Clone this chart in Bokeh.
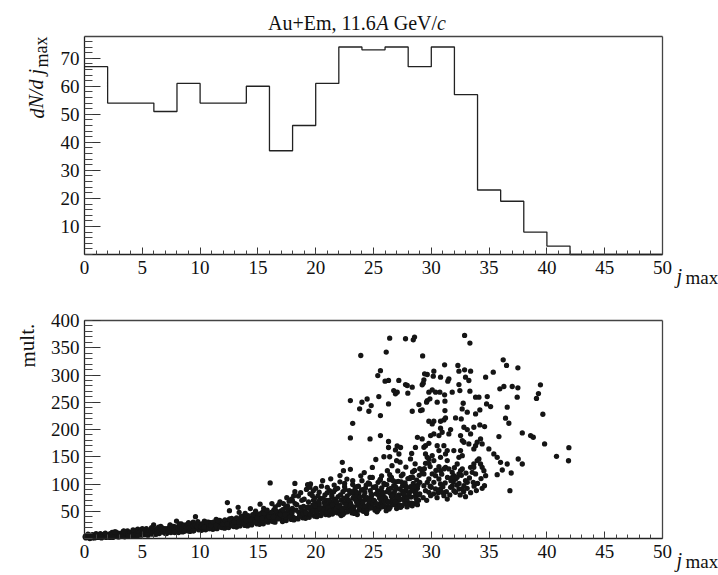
from bokeh.plotting import figure
from bokeh.layouts import column
from bokeh.models import Label, FixedTicker, Range1d, LinearAxis
from bokeh.embed import file_html
from bokeh.resources import INLINE

# ---------------- data ----------------
# top panel: dN/d jmax histogram (bin width 2)
bin_edges = list(range(0, 52, 2))
bin_counts = [67, 54, 54, 51, 61, 54, 54, 60, 37, 46, 61, 74, 73, 74, 67, 74,
              57, 23, 19, 8, 3, 0, 0, 0, 0]

x_ticks = [0, 5, 10, 15, 20, 25, 30, 35, 40, 45, 50]
top_y_ticks = [10, 20, 30, 40, 50, 60, 70]
bot_y_ticks = [50, 100, 150, 200, 250, 300, 350, 400]

# bottom panel: (jmax, multiplicity) per event
band_0_5 = [(0.05,3),(0.12,1),(0.2,5),(0.3,2),(0.38,6),(0.46,0),(0.55,4),(0.63,2),(0.71,7),(0.8,3),(0.88,1),(0.95,5),
            (1.04,4),(1.13,2),(1.21,7),(1.29,3),(1.37,9),(1.47,1),(1.54,5),(1.62,3),(1.72,8),(1.79,6),(1.87,2),(1.96,4),
            (2.05,5),(2.11,3),(2.22,9),(2.28,4),(2.39,11),(2.45,2),(2.56,7),(2.64,6),(2.7,12),(2.81,8),(2.89,3),(2.94,6),
            (3.03,6),(3.14,4),(3.19,10),(3.31,5),(3.36,13),(3.48,3),(3.53,8),(3.66,7),(3.72,14),(3.79,9),(3.9,5),(3.97,11),
            (4.06,7),(4.1,5),(4.23,12),(4.27,6),(4.4,15),(4.44,4),(4.57,10),(4.61,17),(4.74,13),(4.78,9),(4.91,6),(4.95,11)]
band_5_10 = [(5.02,9),(5.15,7),(5.18,14),(5.33,8),(5.35,18),(5.5,6),(5.52,12),(5.68,10),(5.7,16),(5.83,13),(5.86,8),(5.98,25),
             (6.04,11),(6.12,8),(6.24,16),(6.29,10),(6.41,21),(6.47,9),(6.58,14),(6.64,12),(6.76,19),(6.81,15),(6.93,10),(6.97,18),
             (7.07,13),(7.1,9),(7.25,19),(7.3,12),(7.42,24),(7.48,11),(7.59,16),(7.66,14),(7.73,22),(7.84,17),(7.88,12),(7.96,32),
             (8.03,15),(8.14,11),(8.19,21),(8.32,13),(8.38,27),(8.49,12),(8.56,18),(8.65,16),(8.74,25),(8.78,19),(8.9,14),(8.97,23),
             (9.05,17),(9.12,13),(9.22,24),(9.29,15),(9.4,30),(9.45,14),(9.57,21),(9.6,40),(9.71,27),(9.82,19),(9.87,16),(9.98,26)]
band_10_15 = [(10.04,19),(10.13,15),(10.2,26),(10.31,17),(10.37,32),(10.48,16),(10.55,23),(10.63,21),(10.72,30),(10.8,25),(10.91,18),(10.96,28),
              (11.03,21),(11.11,17),(11.23,29),(11.28,19),(11.39,35),(11.46,18),(11.55,26),(11.66,23),(11.7,33),(11.83,27),(11.89,20),(11.95,31),
              (12.06,23),(12.12,19),(12.2,32),(12.3,21),(12.36,66),(12.47,20),(12.54,51),(12.62,25),(12.73,37),(12.79,29),(12.9,22),(12.97,34),
              (13.02,26),(13.15,21),(13.21,35),(13.29,57),(13.38,48),(13.44,23),(13.58,32),(13.63,28),(13.71,41),(13.82,31),(13.87,24),(13.96,38),
              (14.05,28),(14.1,23),(14.23,38),(14.31,26),(14.35,55),(14.46,25),(14.55,34),(14.64,31),(14.72,45),(14.8,36),(14.9,27),(14.97,42)]
band_15_20 = [(15.04,31),(15.14,26),(15.19,63),(15.32,29),(15.39,48),(15.47,27),(15.53,37),(15.65,34),(15.7,44),(15.81,39),(15.88,30),(15.95,46),
              (16.03,33),(16.06,102),(16.21,64),(16.28,31),(16.37,52),(16.48,30),(16.57,40),(16.61,37),(16.74,48),(16.79,43),(16.91,67),(16.96,50),
              (17.05,36),(17.13,31),(17.2,46),(17.3,34),(17.4,57),(17.45,33),(17.56,60),(17.62,40),(17.7,52),(17.84,47),(17.89,35),(17.98,55),
              (18.04,39),(18.11,34),(18.22,64),(18.27,37),(18.36,62),(18.47,36),(18.54,48),(18.66,44),(18.71,57),(18.8,51),(18.88,38),(18.95,59),
              (19.03,42),(19.12,37),(19.24,56),(19.29,40),(19.38,67),(19.44,39),(19.57,52),(19.62,48),(19.75,61),(19.81,55),(19.9,41),(19.97,64)]
band_20_25 = [(20.05,45),(20.1,40),(20.21,60),(20.3,43),(20.4,73),(20.46,42),(20.56,56),(20.64,51),(20.71,66),(20.82,59),(20.87,44),(20.96,70),
              (21.02,48),(21.14,43),(21.23,65),(21.28,46),(21.39,80),(21.45,45),(21.58,60),(21.61,55),(21.72,72),(21.8,63),(21.9,47),(21.95,77),(21.5,68),(21.34,52),
              (22.06,50),(22.12,45),(22.2,70),(22.33,48),(22.36,86),(22.47,47),(22.55,64),(22.65,58),(22.73,78),(22.78,67),(22.9,52),(22.97,83),(22.42,74),(22.62,56),
              (23.03,52),(23.15,47),(23.22,74),(23.29,50),(23.41,92),(23.46,49),(23.54,67),(23.63,61),(23.74,83),(23.81,71),(23.88,55),(23.95,89),(23.35,79),(23.7,96),
              (24.05,54),(24.11,50),(24.19,78),(24.31,53),(24.37,98),(24.45,52),(24.57,70),(24.6,64),(24.72,88),(24.8,75),(24.89,58),(24.98,94),(24.25,84),(24.66,100)]
band_25_29 = [(25.04,56),(25.13,52),(25.23,82),(25.28,55),(25.4,103),(25.48,54),(25.53,74),(25.65,67),(25.71,93),(25.83,79),(25.86,60),(25.96,99),(25.36,88),(25.58,63),
              (26.02,59),(26.14,55),(26.2,86),(26.32,58),(26.38,108),(26.44,57),(26.55,77),(26.62,70),(26.75,97),(26.79,83),(26.9,63),(26.95,104),(26.5,92),(26.27,66),
              (27.06,62),(27.1,58),(27.24,91),(27.3,61),(27.41,115),(27.47,60),(27.59,81),(27.64,74),(27.73,102),(27.82,88),(27.87,66),(27.98,110),(27.52,97),(27.18,70),
              (28.03,66),(28.15,62),(28.21,95),(28.29,65),(28.38,122),(28.47,64),(28.56,86),(28.62,78),(28.74,107),(28.8,92),(28.9,70),(28.96,116),(28.44,101),(28.68,74)]
band_fill = [(0.1,5),(0.25,3),(0.42,2),(0.6,6),(0.75,4),(0.92,2),(1.08,6),(1.25,3),(1.42,5),(1.58,7),(1.75,4),(1.92,6),
             (2.08,7),(2.25,5),(2.42,8),(2.58,4),(2.75,9),(2.92,10),(3.08,8),(3.25,6),(3.42,11),(3.58,9),(3.75,6),(3.92,8),
             (4.08,10),(4.25,8),(4.42,12),(4.58,7),(4.75,11),(4.92,14),(5.08,11),(5.25,13),(5.42,10),(5.58,15),(5.75,12),(5.92,17),
             (6.08,13),(6.25,17),(6.42,12),(6.58,18),(6.75,14),(6.92,16),(7.08,16),(7.25,14),(7.42,19),(7.58,20),(7.75,15),(7.92,21),
             (8.08,18),(8.25,22),(8.42,17),(8.58,23),(8.75,20),(8.92,25),(9.08,20),(9.25,19),(9.42,23),(9.58,25),(9.75,22),(9.92,24),
             (10.08,22),(10.25,24),(10.42,20),(10.58,27),(10.75,23),(10.92,29),(11.08,24),(11.25,26),(11.42,22),(11.58,30),(11.75,25),(11.92,28),
             (12.08,27),(12.25,29),(12.42,24),(12.58,33),(12.75,28),(12.92,31),(13.08,30),(13.25,33),(13.42,27),(13.58,37),(13.75,32),(13.92,35),
             (14.08,33),(14.25,36),(14.42,30),(14.58,40),(14.75,34),(14.92,38),(15.08,36),(15.25,40),(15.42,33),(15.58,43),(15.75,37),(15.92,41),
             (16.08,39),(16.25,43),(16.42,36),(16.58,46),(16.75,41),(16.92,45),(17.08,42),(17.25,47),(17.42,39),(17.58,50),(17.75,44),(17.92,49)]
band_edge = [(0.3,8),(0.7,1),(1.0,9),(1.4,3),(1.8,10),(2.2,2),(2.6,12),(3.0,3),(3.4,14),(3.8,4),(4.2,16),(4.6,5),(5.0,18),
             (5.4,7),(5.8,20),(6.2,8),(6.6,22),(7.0,10),(7.4,25),(7.8,11),(8.2,27),(8.6,13),(9.0,29),(9.4,14),(9.8,31),
             (10.15,27),(10.35,21),(10.55,30),(10.75,18),(10.95,24),(11.15,30),(11.35,24),(11.55,33),(11.75,21),(11.95,26),
             (12.15,34),(12.35,27),(12.55,36),(12.75,24),(12.95,30),(13.15,38),(13.35,30),(13.55,40),(13.75,27),(13.95,33),
             (14.15,42),(14.35,34),(14.55,44),(14.75,30),(14.95,37),(15.15,45),(15.35,37),(15.55,47),(15.75,33),(15.95,40),
             (16.15,48),(16.35,40),(16.55,51),(16.75,36),(16.95,44),(17.15,53),(17.35,44),(17.55,55),(17.75,39),(17.95,47),
             (18.5,78),(18.7,84),(19.0,72),(19.2,90),(19.5,82),(19.8,70),(20.0,92),(20.3,85),(20.5,96),(20.8,80),(21.0,94),
             (21.2,88),(21.6,98),(21.9,92),(22.1,104),(17.9,72),(18.1,78),(17.5,75),(16.5,58),(16.8,62),(15.5,55),(15.8,52),
             (14.8,50),(13.9,46),(17.2,64),(18.0,69)]
band_upper = [(18.3,52),(18.6,41),(18.9,46),(19.1,50),(19.4,45),(19.7,58),(20.0,53),(20.3,63),(20.6,48),(20.9,62),(21.2,58),(21.5,50),
              (21.8,67),(22.1,61),(22.4,55),(22.7,72),(23.0,66),(23.3,58),(23.6,77),(23.9,64),(24.2,70),(24.5,60),(24.8,82),(25.1,68),
              (25.4,62),(25.7,86),(26.0,75),(26.3,90),(26.6,65),(26.9,95),(27.2,80),(27.5,72),(27.8,96),(28.1,84),(28.4,112),(28.7,96),(29.0,82),
              (20.2,78),(21.0,84),(21.7,90),(22.5,95),(23.2,99),(24.0,106),(24.9,112),(25.6,109),(26.4,117),(27.1,124),(27.8,131),(28.6,137),(29.0,128),
              (18.8,70),(19.9,74),(21.4,76),(22.9,88),(23.5,85),(24.3,92),(25.2,95),(25.9,101),(26.7,106),(27.4,104),(28.2,112),
              (22.2,42),(23.6,44),(24.4,46),(25.3,49),(26.1,51),(27.0,55),(27.9,58),(28.8,62)]
band_extra = [(19.15,47),(19.35,58),(19.55,44),(19.75,50),(19.95,60),
              (20.15,50),(20.35,55),(20.55,47),(20.75,53),(20.95,49),(20.25,68),(20.65,74),
              (21.05,56),(21.25,50),(21.45,62),(21.65,48),(21.85,58),(21.15,70),(21.55,86),(21.75,54),
              (22.05,58),(22.25,52),(22.45,66),(22.65,62),(22.85,70),(22.15,80),(22.55,90),(22.95,60),(22.35,44),(22.75,49),
              (23.05,62),(23.25,56),(23.45,71),(23.65,65),(23.85,76),(23.15,86),(23.55,95),(23.95,60),(23.35,46),(23.75,52),
              (24.05,66),(24.25,60),(24.45,75),(24.65,69),(24.85,80),(24.15,90),(24.55,102),(24.95,64),(24.35,48),(24.75,56),
              (25.05,70),(25.25,64),(25.45,79),(25.65,73),(25.85,84),(25.15,94),(25.55,107),(25.95,68),(25.35,51),(25.75,58),
              (26.05,73),(26.25,68),(26.45,83),(26.65,78),(26.85,88),(26.15,99),(26.55,112),(26.95,72),(26.35,54),(26.75,62),
              (27.05,77),(27.25,72),(27.45,88),(27.65,82),(27.85,93),(27.15,105),(27.55,118),(27.95,76),(27.35,57),(27.75,66),
              (28.05,81),(28.25,76),(28.45,92),(28.65,86),(28.85,98),(28.15,110),(28.55,125),(28.95,80),(28.35,60),(28.75,69),
              (29.3,75),(29.6,70),(29.9,96),(30.2,82),(30.5,75),(30.8,100),(31.0,95),(31.3,86),(31.6,80),(31.9,104),
              (32.2,98),(32.5,80),(32.8,86),(33.1,92),(33.4,84),(33.7,96),(34.0,101),(34.3,110),(34.6,97),
              (29.4,128),(29.9,132),(30.4,125),(30.9,118),(31.4,112),(31.7,106),(32.0,130),(32.6,116),(33.0,120),(33.3,111),
              (30.0,94),(30.6,84),(31.2,102),(31.8,96),(32.4,101),(33.9,88),(34.4,92)]
mid_left = [(28.8,185.7),(28.63,167),(28.3,156),(28.2,146),(27.0,142.8),(27.3,140),(26.2,124.5),(26.6,133.6),(29.0,103),(28.5,94),(28.3,88),(27.9,73),(27.7,64),(27.3,58),(26.9,67),
            (22.1,115.5),(21.3,109.5),(20.6,106),(19.55,100),(18.2,101),(18.2,86),(17.7,68.4),(19.3,98.8),(19.5,94),(19.8,88),(19.7,79),(23.0,127),
            (23.2,211.4),(23.0,184.6),(24.7,182.7),(25.6,188.8),(26.3,178),(26.3,167),(27.05,170),(27.34,167),(26.9,162.5),(22.3,139.7),(22.4,124.5),(26.4,150),(27.2,155),
            (25.2,145),(25.9,150),(25.7,115),(24.7,112),(24.9,130.5),(23.9,115),(24.2,121),(23.2,106),(22.7,109),(22.5,101)]
mid_right = [(30.94,195),(30.66,188.8),(30.22,191.9),(29.94,188.8),(31.52,191.9),(32.53,188.8),(32.68,179.6),(32.82,176.6),(33.4,191.9),(35.85,187),(37.87,193.7),(38.59,188.8),(38.82,185.8),(39.8,173.5),
             (29.21,182.7),(29.36,167.4),(29.5,170.4),(29.79,174.7),(30.51,170.4),(30.66,161.3),(31.09,170.4),(31.38,161.3),(31.95,161.3),(32.53,161.3),(32.39,149),(32.24,136.7),(32.68,152),
             (33.25,173.5),(33.83,170.4),(33.68,164.3),(33.97,176.6),(34.26,182.7),(34.4,173.5),(34.98,164.3),(35.41,155.1),(35.7,149),(35.99,139.8),(36.14,125.7),(36.57,136.7),(35.7,117.1),
             (36.91,120.2),(37.52,145.9),(37.87,136.7),
             (29.5,155.1),(29.65,149),(29.79,145.9),(30.08,152.1),(30.22,142.9),(29.5,138),(29.79,138),(30.8,149),(31.23,155.1),(31.38,142.9),(31.23,130.6),(30.66,131.8),(30.8,124.5),
             (31.09,127.6),(31.52,127.6),(31.81,121.4),(31.95,115.3),(32.1,109.2),(32.39,118.4),(32.53,124.5),(32.68,127.6),(32.24,112.2),(31.81,112.2),(33.68,136.7),(33.97,142.9),
             (34.12,145.9),(34.26,136.7),(34.4,130.6),(34.55,124.5),(34.7,115.3),(33.4,130.6),(33.54,121.4),(33.83,118.4),(33.68,130.6),
             (29.21,121.4),(29.36,118.4),(29.79,109.2),(29.65,103.1),(30.08,118.4),(30.37,115.3),(30.66,109.2),(30.22,103.1),(29.36,96.9),(29.5,87.7),(29.79,84.7),(29.94,78.5),
             (30.37,90.8),(30.8,90.8),(30.94,84.7),(31.09,78.5),(31.38,72.4),(31.67,93.9),(31.95,87.7),(32.1,84.7),(32.39,90.8),(32.68,90.8),(32.82,96.9),(32.96,106.1),(33.11,103.1),
             (33.63,103.1),(32.96,76.7),(36.8,87.7),(40.83,150.7),(41.9,166.6),(41.87,142.7)]
high = [(27.77,366.5),(28.44,364.6),(28.55,369.5),(32.88,372.6),(33.34,358.5),(29.25,335),(31.15,318.7),(32.3,317.5),(32.39,307),(32.88,309.5),(33.4,307),
        (30.22,307),(29.65,300.9),(29.42,302.2),(30.17,297.9),(30.8,296),(31.52,293),(31.43,288.7),(29.36,291.1),(29.3,285),(29.21,281.9),(27.77,282.5),(27.92,280.7),
        (28.35,277.6),(27.97,266.6),(32.96,296),(33.25,289.9),(32.39,282.5),(32.47,271.5),(33.34,270.3),(31.81,268.5),(31.15,263.6),(29.79,268.5),(30.08,272.7),
        (30.37,268.5),(30.74,268.5),(29.88,256.2),(29.65,253.1),(29.59,250.1),(30.51,250.1),(31.18,251.9),(31.18,234.8),(28.93,245.8),(29.21,236),(29.07,234.8),
        (28.35,233.5),(32.76,248.2),(32.67,237.8),(33.11,231.7),(33.83,259.3),(34.12,259.3),(34.2,236),(33.83,228.6),(34.7,296),(35.36,305.2),(34.84,260.5),
        (34.78,247),(35.13,242.1),(35.93,274.6),(36.28,278.9),(36.22,327.9),(36.51,317.5),(37.0,278.9),(37.49,276.4),(37.43,259.3),(37.49,313.2),(36.57,240.9),
        (36.42,220.7),(36.71,211.5),(29.79,215.1),(30.08,210.2),(30.22,215.1),(30.8,215.1),(31.09,217.6),(31.23,221.3),(30.8,202.3),(31.67,199.8),(32.1,221.3),
        (32.59,219.4),(32.82,204.1),(33.11,199.8),(33.68,204.1),(34.2,208.4),(34.61,205.4),
        (39.44,282),(39.27,266),(39.1,257),(39.65,228),
        (26.4,367.6),(23.9,335.8),(26.1,342),(25.6,308),(25.37,299),(26.0,288.6),(26.3,290),(27.19,290),(26.75,271.5),(26.9,265.4),(27.05,268.4),(25.46,260.5),
        (23.0,253),(24.0,250),(24.45,256),(24.8,244),(23.8,238),(24.6,233.5),(25.6,225.6),(26.3,247)]

# ---------------- layout helpers ----------------
FONT = "Liberation Serif"
W = 718
FL, FR = 84, 662            # data frame left / right (page px)
H1 = 290
H2 = 575 - H1
INK = "#151515"


def make_fig(height, page_top, ftop, fbot, ymax, yticks, yminor):
    """ftop/fbot: page y of the data box; the canvas itself is the whole plotting frame."""
    lt, lb = ftop - page_top, fbot - page_top
    xs = 50.0 / (FR - FL)
    ys = ymax / (lb - lt)
    p = figure(width=W, height=height,
               x_range=Range1d(-FL * xs, 50 + (W - FR) * xs),
               y_range=Range1d(-(height - lb) * ys, ymax + lt * ys),
               output_backend="svg", toolbar_location=None,
               x_axis_location=None, y_axis_location=None,
               min_border=0, min_border_left=0, min_border_right=0,
               min_border_top=0, min_border_bottom=0)
    p.grid.visible = False
    p.outline_line_color = None
    p.background_fill_color = "white"
    p.border_fill_color = "white"

    xa = LinearAxis(fixed_location=0, bounds=(0, 50),
                    ticker=FixedTicker(ticks=x_ticks, minor_ticks=list(range(0, 51))))
    ya = LinearAxis(fixed_location=0, bounds=(0, ymax),
                    ticker=FixedTicker(ticks=yticks, minor_ticks=yminor))
    for ax in (xa, ya):
        ax.axis_line_color = "#222222"
        ax.axis_line_width = 1.3
        ax.major_tick_line_color = "#333333"
        ax.minor_tick_line_color = "#444444"
        ax.major_tick_out = 0
        ax.minor_tick_out = 0
        ax.major_label_text_font = FONT
        ax.major_label_text_font_size = "19px"
        ax.major_label_text_color = "#111111"
    xa.major_tick_in = 7
    xa.minor_tick_in = 4
    xa.major_label_standoff = 6
    ya.major_tick_in = 16
    ya.minor_tick_in = 8
    ya.major_label_standoff = 5
    p.add_layout(xa, "below")
    p.add_layout(ya, "left")
    # frame top and right edges
    for loc, side, bnds in ((ymax, "above", (0, 50)), (50, "right", (0, ymax))):
        fa = LinearAxis(fixed_location=loc, bounds=bnds, ticker=FixedTicker(ticks=[], minor_ticks=[]),
                        axis_line_color="#444444", axis_line_width=1.3,
                        major_label_text_font_size="0px")
        p.add_layout(fa, side)

    def text(t, px, py, size, italic=False, angle=0.0, align="left"):
        x = -FL * xs + px * xs
        y = ymax + lt * ys - (py - page_top) * ys
        p.add_layout(Label(x=x, y=y, text=t, text_font=FONT, text_font_size=f"{size}px",
                           text_font_style="italic" if italic else "normal", angle=angle,
                           text_align=align, text_baseline="alphabetic", text_color="#111111"))
    return p, text


# ---------------- top panel ----------------
p1, t1 = make_fig(H1, 0, 36, 254, 77.75, top_y_ticks, list(range(0, 78, 2)))
step_y = bin_counts + [bin_counts[-1]]
p1.step(bin_edges, step_y, mode="after", line_color="#222222", line_width=1.3)

# title: Au+Em, 11.6A GeV/c   (pieces: text, italic, lead space em, advance em)
ts = 20
pieces = [("Au+Em, 11.6", False, 0.0, 5.425), ("A", True, 0.0, 0.611),
          ("GeV/", False, 0.25, 2.166), ("c", True, 0.0, 0.444)]
cx = 356.5 - sum(s + w for _, _, s, w in pieces) * ts / 2
for txt, it, s, w in pieces:
    cx += s * ts
    t1(txt, cx, 22.5, ts, italic=it)
    cx += w * ts

t1("dN/d j", 36, 118, 20, italic=True, angle=1.5708)
t1("max", 41, 67, 18, angle=1.5708)
t1("j", 676, 275, 20, italic=True)
t1("max", 685, 277, 19)

# ---------------- bottom panel ----------------
p2, t2 = make_fig(H2, H1, 320, 538, 400.0, bot_y_ticks, list(range(0, 401, 10)))
pts = (band_0_5 + band_5_10 + band_10_15 + band_15_20 + band_20_25 + band_25_29 + band_fill + band_edge
       + band_upper + band_extra + mid_left + mid_right + high)
p2.scatter([a for a, _ in pts], [b for _, b in pts], size=5.3, marker="circle",
           fill_color=INK, line_color=None)

t2("mult.", 27, 367, 21, angle=1.5708)
t2("j", 676, 559, 20, italic=True)
t2("max", 685, 561, 19)

layout = column(p1, p2, spacing=0)
open("out.html", "w").write(file_html(layout, INLINE))
